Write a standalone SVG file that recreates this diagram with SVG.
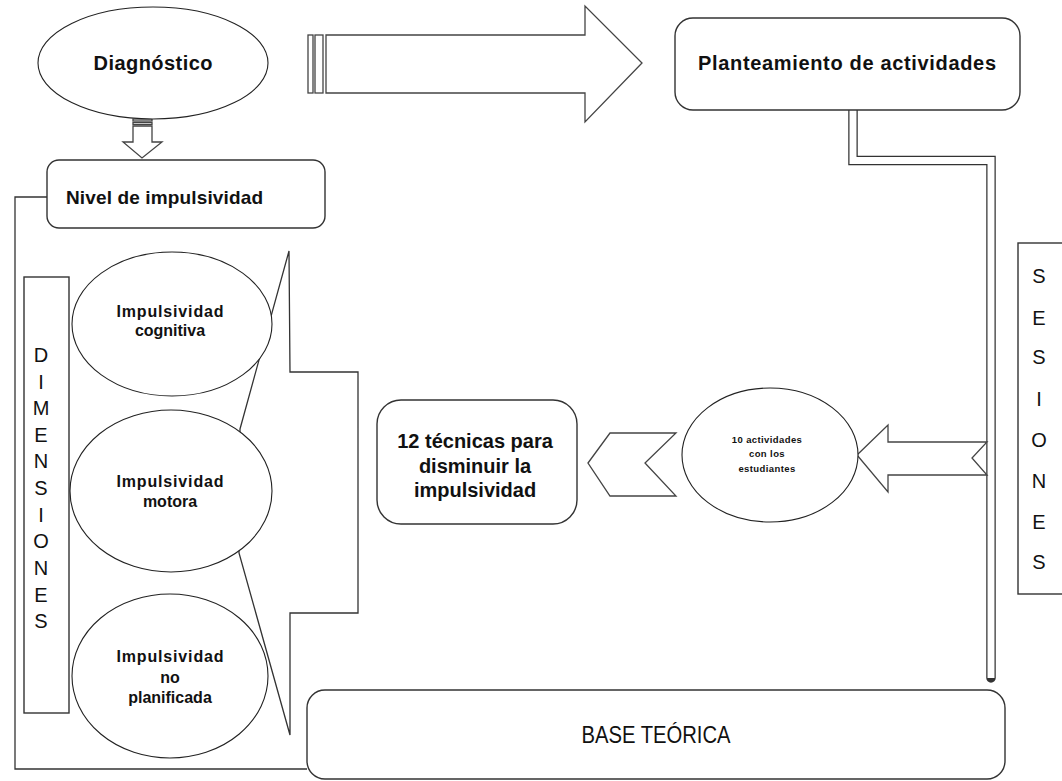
<svg xmlns="http://www.w3.org/2000/svg" width="1062" height="781" viewBox="0 0 1062 781">
<style>
  .ln{fill:none;stroke:#333;stroke-width:1.3}
  .box{fill:#fff;stroke:#333;stroke-width:1.4}
  .ell{fill:#fff;stroke:#222;stroke-width:1.1}
  .arr{fill:#fff;stroke:#444;stroke-width:1.3;stroke-linejoin:miter}
  .b{font-family:"Liberation Sans",Arial,sans-serif;font-weight:bold;fill:#111;text-anchor:middle}
  .r{font-family:"Liberation Sans",Arial,sans-serif;fill:#111;text-anchor:middle}
</style>
<rect width="1062" height="781" fill="#fff"/>
<g id="connectors">
  <path class="ln" d="M47,197 H15 V769 H307"/>
  <polygon class="ln" points="240,429 289,251 290,372 358,372 358,613 290,613 290,735 239,553"/>
  <g id="pipe">
    <path d="M853,108 V160.5 H991 V678" fill="none" stroke="#333" stroke-width="9.5" stroke-linecap="round"/>
    <path d="M853,108 V160.5 H991 V678" fill="none" stroke="#fff" stroke-width="7"/>
  </g>
  <g id="arrow-down">
    <rect x="133" y="119" width="19" height="2" class="arr" stroke-width="1"/>
    <rect x="133" y="122.5" width="19" height="2" class="arr" stroke-width="1"/>
    <polygon class="arr" points="133,126 152,126 152,142 162,142 142,158 123,142 133,142"/>
  </g>
  <g id="arrow-right">
    <rect x="308" y="35" width="5" height="58" class="arr"/>
    <rect x="315" y="35" width="8" height="58" class="arr"/>
    <polygon class="arr" points="326,35 585,35 585,6 642,63 585,122 585,93 326,93"/>
  </g>
  <polygon id="arrow-left" class="arr" points="857,455 888,425 888,442 987,442 972,458 987,475 888,475 888,492"/>
  <polygon id="chevron" class="arr" points="588,463 610,433 676,433 645,463 676,496 610,496"/>
</g>
<g id="diagnostico">
  <ellipse class="ell" cx="153" cy="63" rx="115" ry="56"/>
  <text class="b" x="153" y="70" font-size="20" textLength="119">Diagnóstico</text>
</g>
<g id="planteamiento">
  <rect class="box" x="675" y="18" width="345" height="92" rx="18"/>
  <text class="b" x="847" y="70" font-size="20" textLength="298">Planteamiento de actividades</text>
</g>
<g id="nivel">
  <rect class="box" x="47" y="160" width="278" height="68" rx="12"/>
  <text class="b" x="164.5" y="204" font-size="19" textLength="197">Nivel de impulsividad</text>
</g>
<g id="dimensiones">
  <rect class="box" x="24" y="277" width="45" height="436"/>
  <g class="r" font-size="20">
    <text x="41" y="362">D</text>
    <text x="41" y="389">I</text>
    <text x="41" y="415">M</text>
    <text x="41" y="442">E</text>
    <text x="41" y="468">N</text>
    <text x="41" y="495">S</text>
    <text x="41" y="522">I</text>
    <text x="41" y="548">O</text>
    <text x="41" y="575">N</text>
    <text x="41" y="602">E</text>
    <text x="41" y="628">S</text>
  </g>
</g>
<g id="cognitiva">
  <ellipse class="ell" cx="172" cy="324" rx="100" ry="72"/>
  <text class="b" x="170" y="317" font-size="16" textLength="107">Impulsividad</text>
  <text class="b" x="170" y="336" font-size="16">cognitiva</text>
</g>
<g id="motora">
  <ellipse class="ell" cx="171" cy="491" rx="101" ry="81"/>
  <text class="b" x="170" y="487" font-size="16" textLength="107">Impulsividad</text>
  <text class="b" x="170" y="507" font-size="16">motora</text>
</g>
<g id="noplanificada">
  <ellipse class="ell" cx="170" cy="676" rx="98" ry="82"/>
  <text class="b" x="170" y="662" font-size="16" textLength="107">Impulsividad</text>
  <text class="b" x="170" y="683" font-size="16">no</text>
  <text class="b" x="170" y="703" font-size="16">planificada</text>
</g>
<g id="tecnicas">
  <rect class="box" x="377" y="400" width="200" height="124" rx="24"/>
  <text class="b" x="475" y="448" font-size="20">12 técnicas para</text>
  <text class="b" x="475" y="473" font-size="20">disminuir  la</text>
  <text class="b" x="475" y="497" font-size="20">impulsividad</text>
</g>
<g id="actividades">
  <ellipse class="ell" cx="770" cy="455" rx="88" ry="67"/>
  <text class="b" x="767" y="443" font-size="9.5" letter-spacing="0.4">10 actividades</text>
  <text class="b" x="767" y="457" font-size="9.5" letter-spacing="0.4">con los</text>
  <text class="b" x="767" y="472" font-size="9.5" letter-spacing="0.4">estudiantes</text>
</g>
<g id="sesiones">
  <rect class="box" x="1018" y="243" width="60" height="351"/>
  <g class="r" font-size="20">
    <text x="1039" y="283">S</text>
    <text x="1039" y="325">E</text>
    <text x="1039" y="364">S</text>
    <text x="1039" y="406">I</text>
    <text x="1039" y="447">O</text>
    <text x="1039" y="488">N</text>
    <text x="1039" y="529">E</text>
    <text x="1039" y="569">S</text>
  </g>
</g>
<g id="base">
  <rect class="box" x="307" y="690" width="698" height="89" rx="18"/>
  <text class="r" transform="translate(656,743) scale(0.88,1)" x="0" y="0" font-size="23">BASE TEÓRICA</text>
</g>
</svg>
